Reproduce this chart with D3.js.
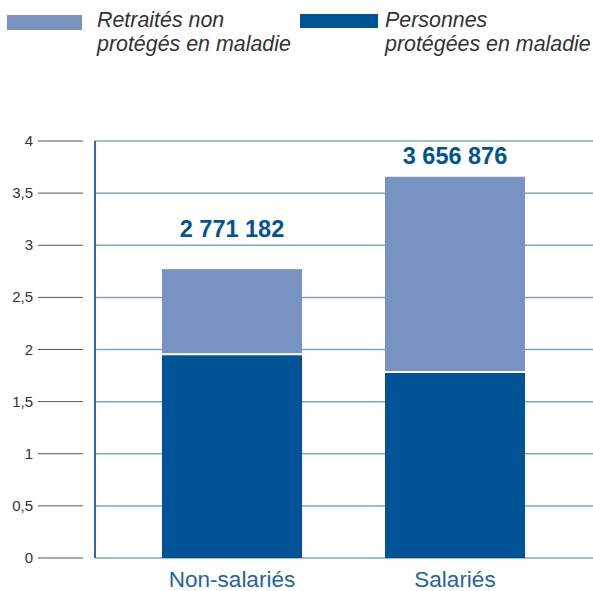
<!DOCTYPE html>
<html><head><meta charset="utf-8">
<script src="https://cdn.jsdelivr.net/npm/d3@7"></script>
<style>body{margin:0;background:#fff}svg{display:block}</style>
</head><body>
<script>
const categories = ["Non-salariés", "Salariés"];
const protegees = [1.95, 1.78];
const retraites = [0.821182, 1.876876];
const totalLabels = ["2 771 182", "3 656 876"];
const yTicks = [0, 0.5, 1, 1.5, 2, 2.5, 3, 3.5, 4];
const legendItems = [
  {lines: ["Retraités non", "protégés en maladie"], color: "#7893c2"},
  {lines: ["Personnes", "protégées en maladie"], color: "#005496"}
];

const W = 593, H = 591;
const svg = d3.select("body").append("svg").attr("width", W).attr("height", H);
const font = "'Liberation Sans', Arial, sans-serif";

const y = d3.scaleLinear().domain([0, 4]).range([558, 141]);
const x = d3.scalePoint().domain(categories).range([232, 455]);
const barW = 140;
const labelGap = [32, 13];

// gridlines
svg.append("g").selectAll("line").data(yTicks).join("line")
  .attr("x1", 95).attr("x2", W).attr("y1", d => y(d)).attr("y2", d => y(d))
  .attr("stroke", "#7ea6cb").attr("stroke-width", 1.5);

// left tick marks + labels
const fmt = d => String(d).replace(".", ",");
svg.append("g").selectAll("line").data(yTicks).join("line")
  .attr("x1", 38).attr("x2", 83).attr("y1", d => y(d)).attr("y2", d => y(d))
  .attr("stroke", "#555").attr("stroke-width", 1);
svg.append("g").selectAll("text").data(yTicks).join("text")
  .attr("x", 33).attr("y", d => y(d) + 5).attr("text-anchor", "end")
  .attr("font-family", font).attr("font-size", 15).attr("fill", "#333")
  .text(fmt);

// axis line
svg.append("line").attr("x1", 95).attr("x2", 95).attr("y1", y(4)).attr("y2", y(0))
  .attr("stroke", "#2a6aad").attr("stroke-width", 2);

// bars
categories.forEach((c, i) => {
  const cx = x(c);
  const total = protegees[i] + retraites[i];
  svg.append("rect").attr("x", cx - barW/2).attr("width", barW)
    .attr("y", y(total)).attr("height", y(protegees[i]) - y(total))
    .attr("fill", "#7893c2");
  svg.append("rect").attr("x", cx - barW/2).attr("width", barW)
    .attr("y", y(protegees[i])).attr("height", y(0) - y(protegees[i]))
    .attr("fill", "#005496");
  svg.append("line").attr("x1", cx - barW/2).attr("x2", cx + barW/2)
    .attr("y1", y(protegees[i]) - 0.5).attr("y2", y(protegees[i]) - 0.5)
    .attr("stroke", "#fff").attr("stroke-width", 2);
  svg.append("text").attr("x", cx).attr("y", y(total) - labelGap[i])
    .attr("text-anchor", "middle").attr("font-family", font)
    .attr("font-weight", "bold").attr("font-size", 23.5).attr("fill", "#005496")
    .text(totalLabels[i]);
  svg.append("text").attr("x", cx).attr("y", 587)
    .attr("text-anchor", "middle").attr("font-family", font)
    .attr("font-size", 22.5).attr("fill", "#1f63a8")
    .text(c);
});

// legend
const legX = [7, 300];
legendItems.forEach((it, i) => {
  svg.append("rect").attr("x", legX[i]).attr("y", i === 0 ? 15 : 14)
    .attr("width", i === 0 ? 75 : 78).attr("height", i === 0 ? 15 : 14)
    .attr("fill", it.color);
  it.lines.forEach((ln, j) => {
    svg.append("text").attr("x", legX[i] + (i === 0 ? 90 : 85)).attr("y", 27 + j * 24)
      .attr("font-family", font).attr("font-style", "italic")
      .attr("font-size", 21.4).attr("fill", "#333").text(ln);
  });
});
</script>
</body></html>
